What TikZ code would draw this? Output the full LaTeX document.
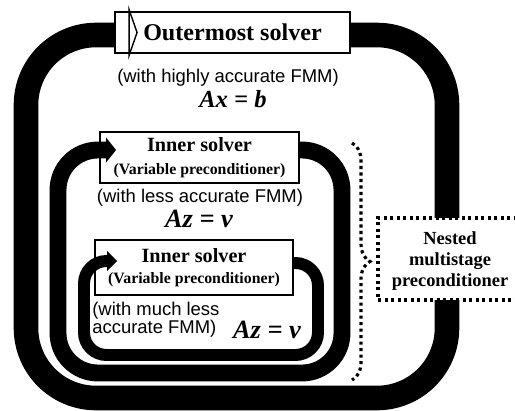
\documentclass[tikz,border=0pt]{standalone}
\usepackage{fontspec}
\setmainfont{Liberation Serif}
\setsansfont{Liberation Sans}
\usetikzlibrary{arrows.meta,calc,decorations.pathreplacing}

\begin{document}
\begin{tikzpicture}[x=0.02cm, y=-0.02cm,
    box/.style={rectangle, draw, line width=1.1pt, fill=white, inner sep=0pt, align=center, font=\bfseries},
    band/.style={line width=#1, line cap=butt, line join=round},
    note/.style={inner sep=0pt, font=\sffamily\fontsize{10.5}{10}\selectfont},
    eqn/.style={inner sep=0pt, font=\bfseries\itshape\fontsize{#1}{#1}\selectfont},
    dots/.style={line width=1.8pt, dash pattern=on 1.8pt off 1.9pt}
]
    \useasboundingbox (0,0) rectangle (515,410);
    \clip (0,0) rectangle (515,410);

    % Outermost solver
    \node[box, minimum width=4.7cm, minimum height=0.82cm, font=\bfseries\fontsize{13.7}{14}\selectfont] (outer) at (232.5,32.5) {Outermost solver};
    \draw[band=14pt, rounded corners=1.4cm] (outer.east |- 0,35) -- (447,35) -- (447,398) -- (26,398) -- (26,35) -- (outer.west |- 0,35);
    \draw[line width=0.8pt, fill=white] ($(outer.west)+(15,-23)$) -- ++(8,23) -- ++(-8,23) -- cycle;
    \node[note] (hinote) at (228,78) {(with highly accurate FMM)};
    \node[eqn=14] (hieq) at (233,99) {Ax = b};

    % Inner solver (middle)
    \node[box, minimum width=3.98cm, minimum height=1.02cm] (midbox) at (199.5,157.5) {{\fontsize{11.5}{12}\selectfont Inner solver}\\[1pt]{\fontsize{9}{10}\selectfont (Variable preconditioner)}};
    \draw[band=9.6pt, rounded corners=0.8cm, -{Triangle[length=5.7pt, width=14pt]}] (midbox.east |- 0,150) -- (342,150) -- (342,373) -- (58,373) -- (58,150) -- ($(midbox.west |- 0,150)+(17,0)$);
    \node[note] (lessnote) at (200,198) {(with less accurate FMM)};
    \node[eqn=15] (lesseq) at (199,219) {Az = v};

    % Inner solver (innermost)
    \node[box, minimum width=3.96cm, minimum height=1.1cm] (innbox) at (194,267.5) {{\fontsize{11.5}{12}\selectfont Inner solver}\\[0pt]{\fontsize{9}{10}\selectfont (Variable preconditioner)}};
    \draw[band=6.8pt, rounded corners=0.45cm, -{Triangle[length=5.7pt, width=11pt]}] (innbox.east |- 0,263) -- (318,263) -- (318,355) -- (84,355) -- (84,261) -- ($(innbox.west |- 0,261)+(23,0)$);
    \node[note, anchor=west, align=left] (muchnote) at (92,320) {(with much less\\accurate FMM)};
    \node[eqn=15] (mucheq) at (267,330) {Az = v};

    % Nested multistage preconditioner (box runs off the right edge)
    \fill[white] (378,218) rectangle (530,300);
    \draw[dots] (530,218) -- (378,218) -- (378,300) -- (530,300);
    \node[align=center, inner sep=0pt, font=\bfseries\fontsize{10.5}{12.2}\selectfont] (nested) at (450,261) {Nested\\multistage\\preconditioner};
    \coordinate (bracetop) at (352,143);
    \coordinate (bracebot) at (352,380);
    \draw[dots, decorate, decoration={brace, amplitude=0.36cm}] (bracetop) -- (bracebot);

\end{tikzpicture}
\end{document}
